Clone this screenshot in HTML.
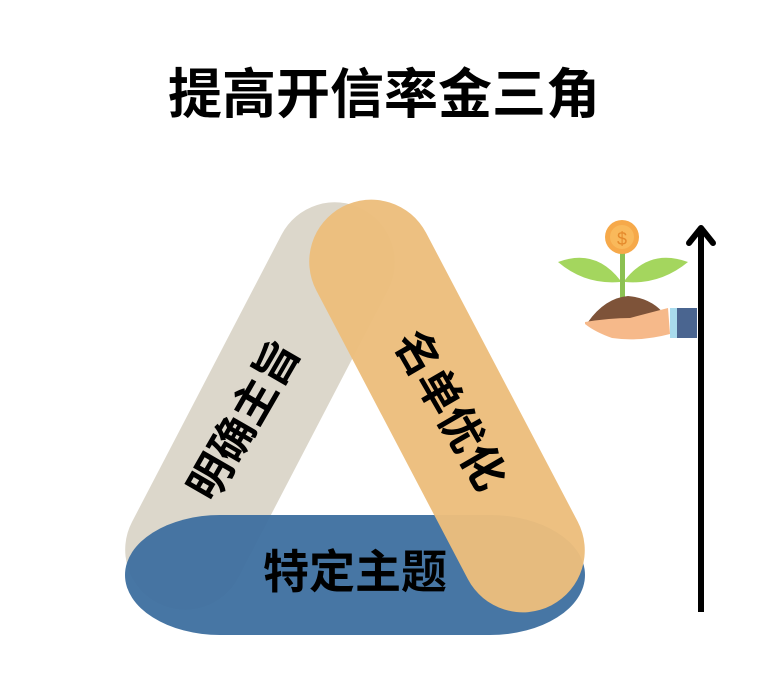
<!DOCTYPE html>
<html><head><meta charset="utf-8"><style>
html,body{margin:0;padding:0;background:#fff;width:768px;height:676px;overflow:hidden}
svg{display:block}
text{font-family:"Liberation Sans","Noto Sans CJK SC",sans-serif;font-weight:bold;fill:#000}
</style></head><body>
<svg width="768" height="676" viewBox="0 0 768 676">
<text x="384" y="113" font-size="54" text-anchor="middle">提高开信率金三角</text>
<!-- gray pill -->
<g transform="translate(260,406) rotate(-62.5)">
<rect x="-222" y="-60" width="444" height="120" rx="60" fill="#dcd7cb"/>
</g>
<!-- blue pill -->
<rect x="125" y="515" width="460" height="120" rx="95" ry="60" fill="#3d6f9f" opacity="0.95"/>
<!-- orange pill -->
<g transform="translate(447,406) rotate(62.3)">
<rect x="-225" y="-62" width="450" height="124" rx="62" fill="#ecbd7c" opacity="0.96"/>
</g>
<text transform="translate(247,422) rotate(-60)" font-size="44" text-anchor="middle" dominant-baseline="middle">明确主旨</text>
<text transform="translate(447,412) rotate(60)" font-size="44" text-anchor="middle" dominant-baseline="middle">名单优化</text>
<text x="355" y="588" font-size="46" text-anchor="middle">特定主题</text>
<!-- arrow -->
<line x1="701" y1="232" x2="701" y2="612" stroke="#000" stroke-width="6"/>
<polyline points="689,243 701,228 713,243" fill="none" stroke="#000" stroke-width="6" stroke-linecap="round" stroke-linejoin="round"/>
<!-- plant -->
<path d="M620 280 Q595 248 558 262 Q585 285 620 282Z" fill="#a4d65e"/>
<path d="M625 280 Q650 248 688 262 Q660 285 625 282Z" fill="#a4d65e"/>
<rect x="620" y="250" width="5" height="50" fill="#8cc152"/>
<circle cx="622" cy="237" r="17" fill="#f6a94a"/>
<circle cx="622" cy="237" r="12" fill="#f9b95b"/>
<text x="622" y="245" font-size="18" text-anchor="middle" style="fill:#e58a2c;font-weight:normal">$</text>
<path d="M588 322 Q605 298 628 296 Q652 298 665 315 L665 322 L600 325Z" fill="#7e5339"/>
<path d="M585 322 Q610 318 630 318 L668 308 L670 334 Q640 342 612 338 Q595 332 585 324Z" fill="#f6b98a"/>
<rect x="670" y="308" width="7" height="30" fill="#a8dbed"/>
<rect x="677" y="308" width="20" height="30" fill="#4a6590"/>
</svg>
</body></html>
